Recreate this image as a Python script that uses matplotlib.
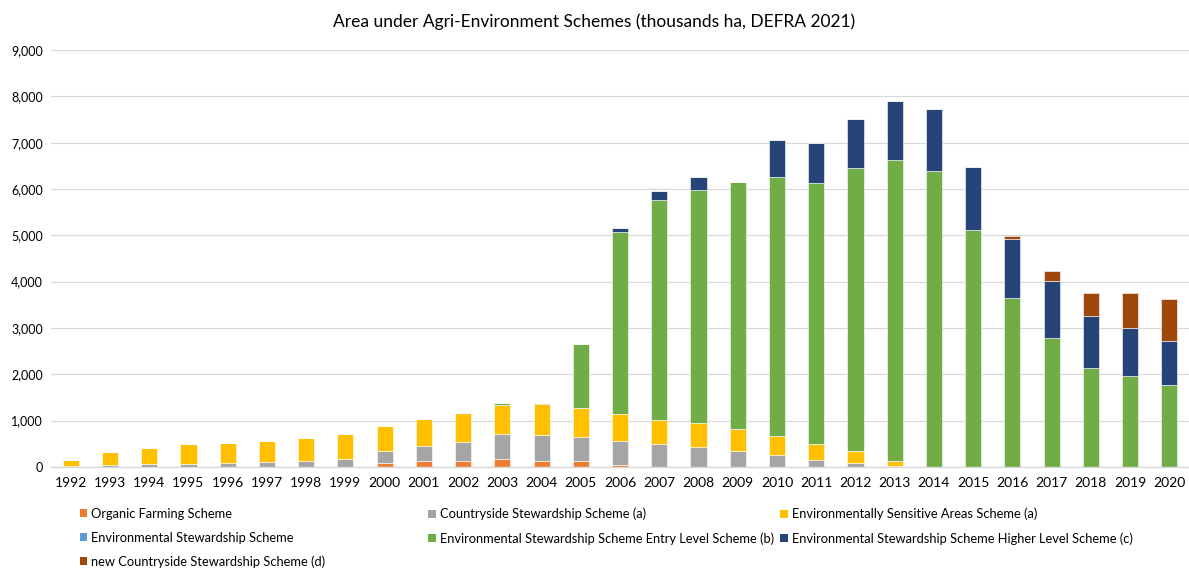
import numpy as np
import matplotlib.pyplot as plt
from matplotlib.patches import Patch
from matplotlib.ticker import FuncFormatter

plt.rcParams["font.family"] = ["Lato", "DejaVu Sans"]

# ==========================================================
# Data (thousands ha)
# ==========================================================
years = list(range(1992, 2021))

organic = [0, 0, 0, 0, 0, 0, 0, 0, 78, 121, 136, 179, 121, 121, 50,
           0, 0, 0, 0, 0, 0, 0, 0, 0, 0, 0, 0, 0, 0]
css_a = [30, 35, 56, 56, 78, 100, 121, 173, 259, 324, 410, 534, 570, 527, 518,
         488, 432, 352, 251, 158, 78, 28, 0, 0, 0, 0, 0, 0, 0]
esa_a = [128, 281, 361, 432, 432, 468, 505, 531, 540, 592, 612, 617, 661, 626, 568,
         534, 510, 475, 418, 330, 274, 93, 0, 0, 0, 0, 0, 0, 0]
es = [0] * 29
els_b = [0, 0, 0, 0, 0, 0, 0, 0, 0, 0, 0, 44, 30, 1386, 3931,
         4736, 5032, 5328, 5586, 5631, 6097, 6510, 6378, 5110, 3657, 2793, 2138, 1965, 1771]
hls_c = [0, 0, 0, 0, 0, 0, 0, 0, 0, 0, 0, 0, 0, 0, 86,
         188, 281, 0, 808, 879, 1067, 1274, 1354, 1361, 1274, 1216, 1130, 1044, 957]
new_css_d = [0] * 24 + [65, 224, 481, 740, 892]

SERIES = [
    ("Organic Farming Scheme",                                   organic,   "#ED7D31"),
    ("Countryside Stewardship Scheme (a)",                       css_a,     "#A5A5A5"),
    ("Environmentally Sensitive Areas Scheme (a)",               esa_a,     "#FFC000"),
    ("Environmental Stewardship Scheme",                         es,        "#5B9BD5"),
    ("Environmental Stewardship Scheme Entry Level Scheme (b)",  els_b,     "#70AD47"),
    ("Environmental Stewardship Scheme Higher Level Scheme (c)", hls_c,     "#264478"),
    ("new Countryside Stewardship Scheme (d)",                   new_css_d, "#9E480E"),
]

# ==========================================================
# Plot
# ==========================================================
fig = plt.figure(figsize=(11.89, 5.72), dpi=100)
ax = fig.add_axes([0.043, 0.1836, 0.957, 0.729])

x = np.arange(len(years))
bottom = np.zeros(len(years))
handles = []
for label, vals, color in SERIES:
    vals = np.array(vals, dtype=float)
    ax.bar(x, vals, width=0.41, bottom=bottom, color=color,
           edgecolor="white", linewidth=0.4)
    bottom += vals
    handles.append(Patch(facecolor=color, label=label))

ax.set_xlim(-0.5, len(years) - 0.5)
ax.set_ylim(0, 9000)
ax.set_yticks(np.arange(0, 9001, 1000))
ax.yaxis.set_major_formatter(FuncFormatter(lambda v, _: f"{int(v):,}"))
ax.set_xticks(x)
ax.set_xticklabels([str(y) for y in years], fontsize=10)
ax.tick_params(axis="y", labelsize=9, length=0, pad=6)
ax.tick_params(axis="x", length=0, pad=7)
ax.grid(axis="y", color="#d9d9d9", linewidth=0.9)
ax.set_axisbelow(True)
for s in ["top", "right", "left"]:
    ax.spines[s].set_visible(False)
ax.spines["bottom"].set_color("#d9d9d9")
ax.spines["bottom"].set_linewidth(1.0)

fig.text(0.5, 0.962, "Area under Agri-Environment Schemes (thousands ha, DEFRA 2021)",
         ha="center", va="center", fontsize=12.5)

# Legend: three columns laid out like Excel (row-wise)
cols = [[handles[0], handles[3], handles[6]],
        [handles[1], handles[4]],
        [handles[2], handles[5]]]
col_x = [0.067, 0.360, 0.656]
for hs, cx in zip(cols, col_x):
    fig.legend(handles=hs, loc="upper left", bbox_to_anchor=(cx, 0.112),
               frameon=False, fontsize=9.3, handlelength=0.6, handleheight=0.6,
               handletextpad=0.3, labelspacing=0.9, borderaxespad=0,
               borderpad=0)

fig.savefig("out.png", dpi=100)
